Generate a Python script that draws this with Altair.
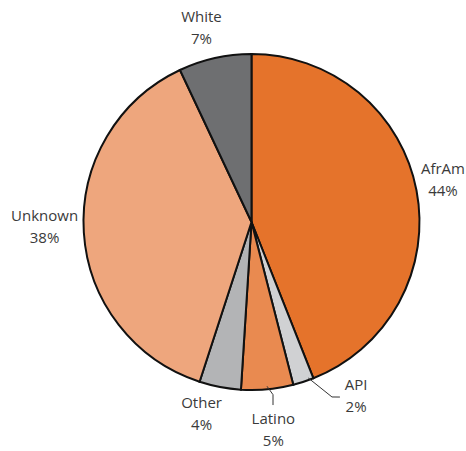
import altair as alt
import pandas as pd
import numpy as np

categories = ["AfrAm", "API", "Latino", "Other", "Unknown", "White"]
values = [44, 2, 5, 4, 38, 7]
pct_labels = ["44%", "2%", "5%", "4%", "38%", "7%"]
colors = ["#E5732B", "#D0D1D3", "#E98A50", "#B3B4B6", "#EEA67D", "#6E6F71"]

# layout (pixels)
W, H = 466, 451
CX, CY = 251.5, 222
R = 168
# label placement: (angle offset from slice middle in degrees, radius in px)
label_adjust = {
    "AfrAm": (-1.6, 196), "API": (-13, 203), "Latino": (-0.6, 209),
    "Other": (3.8, 198), "Unknown": (2.2, 207), "White": (-1.9, 200),
}
# leader lines: polar points (angle deg, radius px)
leaders = {
    "API": [(160, 166), (155.3, 192.6), (153.2, 196.1)],
    "Latino": [(174.6, 165), (172.9, 174), (173.3, 184.3)],
}

df = pd.DataFrame({"category": categories, "value": values, "order": range(len(values))})
total = sum(values)
cum = np.cumsum([0] + values)
mids = [(cum[i] + cum[i + 1]) / 2 / total * 360 for i in range(len(values))]

lab = []
for i, c in enumerate(categories):
    da, r = label_adjust[c]
    a = np.deg2rad(mids[i] + da)
    lab.append({"label": f"{c}\n{pct_labels[i]}", "x": r * np.sin(a), "y": r * np.cos(a)})
lab_df = pd.DataFrame(lab)

lines = []
for c, pts in leaders.items():
    for j, (ang, r) in enumerate(pts):
        a = np.deg2rad(ang)
        lines.append({"g": c, "k": j, "x": r * np.sin(a), "y": r * np.cos(a)})
line_df = pd.DataFrame(lines)

xs = alt.Scale(domain=[-CX, W - CX], nice=False, zero=False)
ys = alt.Scale(domain=[-(H - CY), CY], nice=False, zero=False)

arcs = alt.Chart(df).mark_arc(radius=R, stroke="#111111", strokeWidth=2).encode(
    theta=alt.Theta("value:Q", stack=True),
    color=alt.Color("category:N", scale=alt.Scale(domain=categories, range=colors), legend=None),
    order=alt.Order("order:Q"),
    x=alt.datum(0, scale=xs, axis=None),
    y=alt.datum(0, scale=ys, axis=None),
)

texts = alt.Chart(lab_df).mark_text(
    lineBreak="\n", font="Open Sans",
    fontSize=15, color="#3A3A3A",
    lineHeight=22, baseline="middle", align="center", dy=-11
).encode(
    x=alt.X("x:Q", scale=xs, axis=None),
    y=alt.Y("y:Q", scale=ys, axis=None),
    text="label:N",
)

leader = alt.Chart(line_df).mark_line(color="#333333", strokeWidth=1).encode(
    x=alt.X("x:Q", scale=xs, axis=None),
    y=alt.Y("y:Q", scale=ys, axis=None),
    detail="g:N",
    order="k:Q",
)

chart = alt.layer(arcs, leader, texts).properties(
    width=W, height=H, padding=0, autosize="none"
).configure_view(stroke=None)

chart.save("out.html", embed_options={"renderer": "svg", "actions": False})
